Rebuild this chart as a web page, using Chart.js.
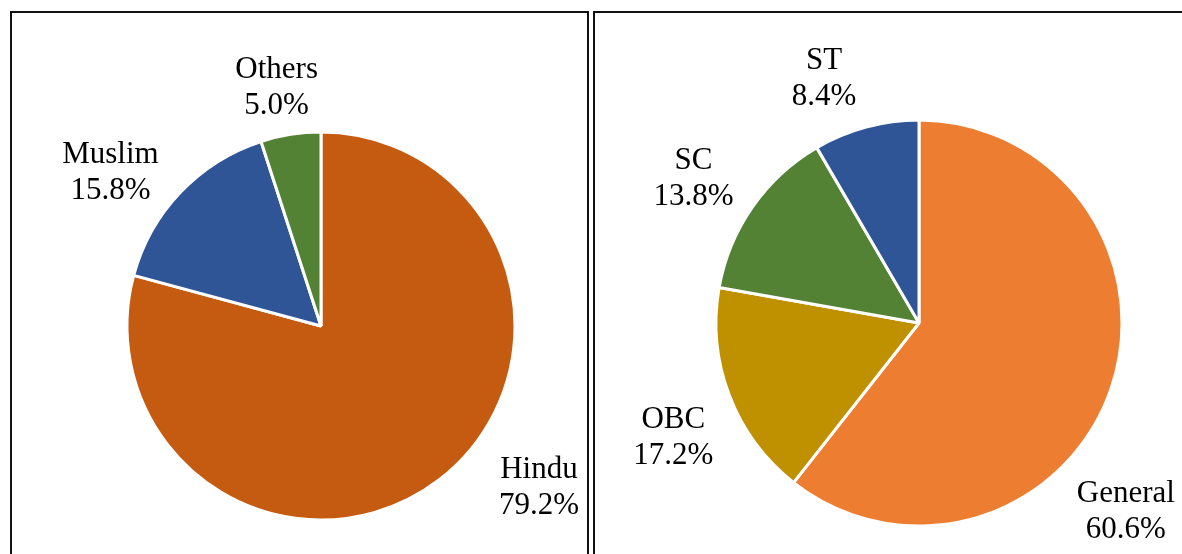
<!DOCTYPE html>
<html lang="en">
<head>
<meta charset="UTF-8">
<title>Religion and caste shares</title>
<script src="https://cdn.jsdelivr.net/npm/chart.js@4.4.1/dist/chart.umd.min.js"></script>
<style>
  body { margin: 0; background: #fff; width: 1182px; height: 554px; overflow: hidden; position: relative; }
  .panel { position: absolute; border: 2px solid #111; box-sizing: border-box; }
  canvas { position: absolute; }
</style>
</head>
<body>
<div class="panel" style="left:10px; top:11px; width:579px; height:600px;"></div>
<div class="panel" style="left:593px; top:11px; width:700px; height:600px;"></div>
<canvas id="religion" width="640" height="640" style="left:1px; top:6px;"></canvas>
<canvas id="caste" width="640" height="640" style="left:599px; top:3px;"></canvas>
<script>
// religion split
var religionLabels = ['Hindu', 'Muslim', 'Others'];
var religionValues = [79.2, 15.8, 5.0];
var religionColors = ['#C55A11', '#2F5597', '#548235'];
// label nudges from the outer edge of each slice
var religionNudge = [[100, 16], [-70, -11], [-14, -38]];

// caste split
var casteLabels = ['General', 'OBC', 'SC', 'ST'];
var casteValues = [60.6, 17.2, 13.8, 8.4];
var casteColors = ['#ED7D31', '#BF9000', '#548235', '#2F5597'];
var casteNudge = [[15, 131], [-56, 51], [-59, -20], [-42, -40]];

var sliceLabels = {
    id: 'sliceLabels',
    afterDatasetsDraw: function (chart, args, opts) {
        var ctx = chart.ctx;
        var meta = chart.getDatasetMeta(0);
        var values = chart.data.datasets[0].data;
        ctx.save();
        ctx.fillStyle = '#000';
        ctx.font = '31px "Liberation Serif", "Times New Roman", serif';
        ctx.textAlign = 'center';
        ctx.textBaseline = 'alphabetic';
        meta.data.forEach(function (arc, i) {
            var p = arc.getProps(['x', 'y', 'startAngle', 'endAngle', 'outerRadius'], true);
            var mid = (p.startAngle + p.endAngle) / 2;
            var x = p.x + Math.cos(mid) * p.outerRadius + opts.nudge[i][0];
            var y = p.y + Math.sin(mid) * p.outerRadius + opts.nudge[i][1];
            ctx.fillText(chart.data.labels[i], x, y - 18);
            ctx.fillText(values[i].toFixed(1) + '%', x, y + 18);
        });
        ctx.restore();
    }
};

function makePie(id, labels, values, colors, radius, nudge) {
    return new Chart(document.getElementById(id), {
        type: 'pie',
        data: {
            labels: labels,
            datasets: [{
                data: values,
                backgroundColor: colors,
                borderColor: '#fff',
                borderWidth: 3
            }]
        },
        options: {
            responsive: false,
            animation: false,
            radius: radius,
            plugins: {
                legend: { display: false },
                tooltip: { enabled: false },
                sliceLabels: { nudge: nudge }
            }
        },
        plugins: [sliceLabels]
    });
}

makePie('religion', religionLabels, religionValues, religionColors, 194, religionNudge);
makePie('caste', casteLabels, casteValues, casteColors, 203, casteNudge);
</script>
</body>
</html>
